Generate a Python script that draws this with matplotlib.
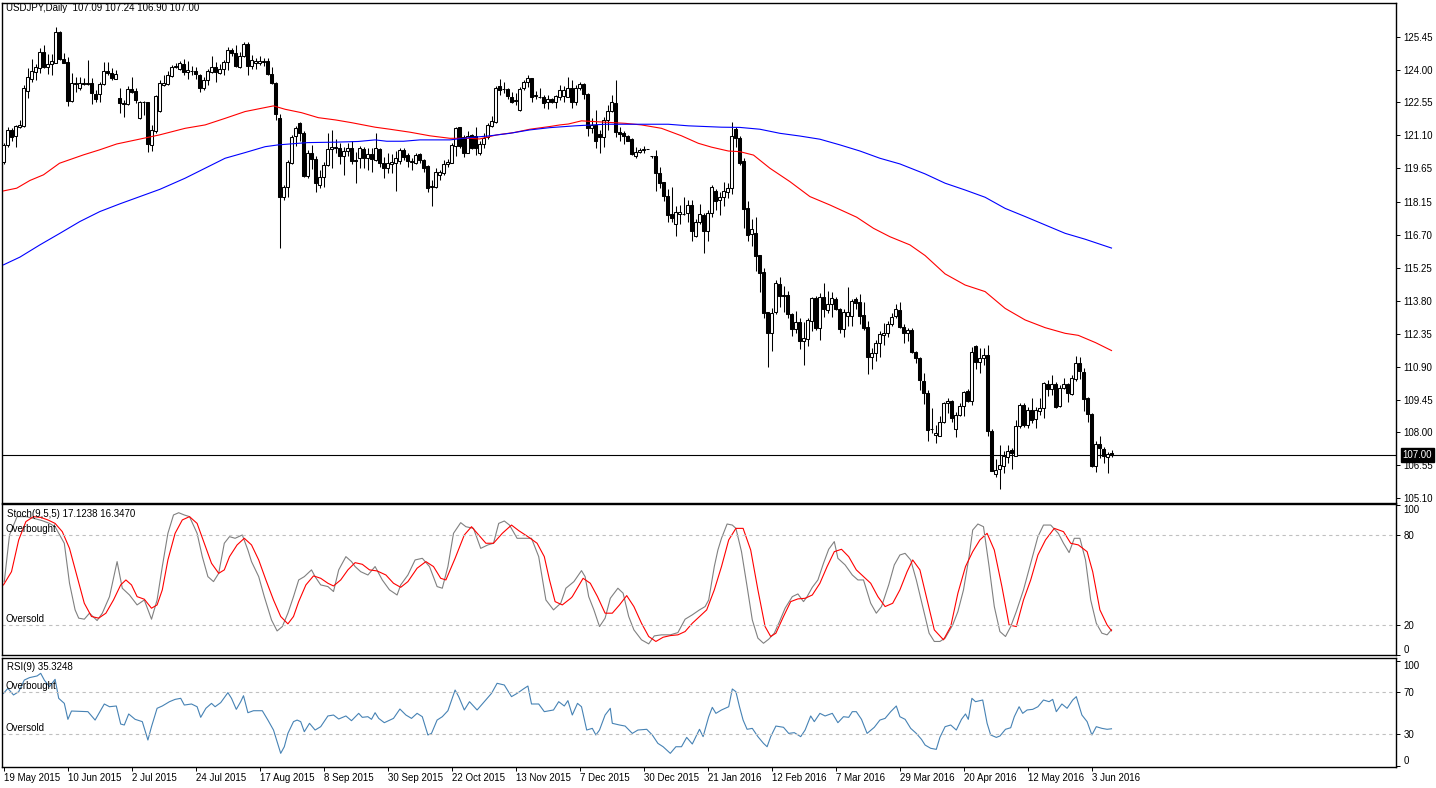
import matplotlib
matplotlib.use('Agg')
import matplotlib.pyplot as plt
import numpy as np

plt.rcParams['font.family'] = ['Liberation Sans', 'DejaVu Sans']
plt.rcParams['font.size'] = 7

# USDJPY daily candles, bar 0 = 19 May 2015 ... bar 277 = 10 Jun 2016
opens = [
    119.94, 120.68, 121.34, 121.05, 121.46, 121.52, 123.07, 123.57, 123.91, 124.06,
    124.76, 124.10, 124.24, 124.31, 125.65, 124.46, 124.32, 122.63, 123.37, 123.21,
    123.40, 123.38, 123.40, 122.93, 122.93, 123.37, 123.94, 123.84, 123.59, 122.74,
    122.52, 122.49, 123.13, 123.06, 121.88, 122.56, 122.56, 120.68, 121.27, 122.18,
    123.33, 123.37, 123.72, 124.10, 124.01, 124.24, 123.88, 123.94, 123.94, 123.77,
    123.21, 123.52, 123.91, 124.10, 123.87, 124.01, 124.35, 124.87, 124.72, 124.13,
    124.62, 125.13, 124.18, 124.28, 124.28, 124.35, 124.38, 123.79, 123.43, 121.88,
    118.36, 118.84, 119.90, 121.05, 121.63, 121.19, 119.31, 120.31, 120.05, 118.89,
    119.25, 119.80, 120.49, 120.53, 120.53, 120.21, 120.41, 120.56, 120.00, 120.09,
    120.49, 120.12, 120.27, 120.02, 120.49, 119.87, 119.68, 119.83, 119.90, 119.99,
    120.46, 120.24, 119.94, 119.90, 120.27, 120.02, 119.75, 118.84, 118.84, 119.33,
    119.46, 119.83, 119.90, 120.63, 121.46, 121.02, 120.34, 121.12, 121.05, 120.34,
    120.72, 121.02, 121.52, 121.71, 123.28, 123.13, 123.13, 122.81, 122.63, 122.22,
    123.18, 123.44, 123.62, 122.85, 122.81, 122.81, 122.55, 122.69, 122.56, 122.81,
    122.84, 122.81, 123.21, 122.55, 123.18, 123.35, 122.93, 121.41, 121.56, 121.15,
    121.02, 121.78, 122.19, 122.52, 121.24, 121.19, 121.05, 120.94, 120.21, 120.38,
    120.46, 120.50, 120.20, 120.19, 119.43, 119.03, 118.43, 117.62, 117.18, 117.62,
    117.62, 117.66, 118.03, 116.64, 117.30, 117.59, 116.90, 117.67, 118.65, 118.25,
    118.40, 118.62, 118.80, 121.37, 121.00, 119.97, 117.88, 116.74, 116.78, 115.83,
    115.06, 113.30, 112.37, 113.30, 114.55, 114.06, 114.06, 113.21, 112.55, 112.89,
    112.05, 112.11, 112.93, 113.91, 112.62, 113.99, 113.40, 113.66, 113.88, 113.45,
    112.56, 113.15, 113.15, 113.87, 113.77, 113.18, 112.64, 111.34, 111.49, 111.93,
    112.30, 112.37, 112.77, 113.14, 113.40, 112.67, 112.37, 112.52, 111.56, 111.30,
    110.27, 109.73, 108.15, 107.89, 107.85, 108.48, 109.29, 109.39, 108.14, 108.77,
    109.17, 109.83, 109.40, 111.81, 111.12, 111.27, 111.42, 108.07, 106.17, 106.37,
    106.52, 106.93, 107.23, 106.96, 108.29, 109.21, 108.33, 108.99, 108.58, 108.95,
    109.06, 110.14, 109.90, 110.14, 109.17, 109.95, 110.12, 109.68, 110.34, 111.05,
    110.68, 109.51, 108.81, 106.52, 107.49, 107.26, 106.90, 107.09]
highs = [
    120.75, 121.49, 121.41, 121.56, 121.78, 123.33, 124.06, 124.46, 124.24, 124.94,
    125.09, 124.68, 124.68, 125.87, 125.71, 124.72, 124.57, 123.84, 123.69, 123.69,
    123.62, 124.43, 123.62, 123.10, 123.47, 124.35, 124.35, 124.09, 123.99, 123.18,
    122.66, 123.28, 123.69, 123.18, 122.62, 122.62, 122.59, 121.56, 122.88, 123.55,
    123.77, 123.94, 124.21, 124.28, 124.40, 124.46, 124.38, 124.18, 124.10, 123.79,
    123.66, 124.03, 124.60, 124.35, 124.24, 124.43, 125.01, 124.97, 125.09, 124.79,
    125.21, 125.23, 124.65, 124.53, 124.60, 124.50, 124.50, 124.13, 123.47, 122.03,
    118.91, 120.02, 121.12, 121.52, 121.71, 121.27, 120.46, 120.68, 120.19, 119.58,
    119.94, 121.19, 121.34, 120.93, 120.78, 120.58, 120.75, 120.83, 120.38, 120.63,
    120.58, 120.53, 120.53, 121.22, 120.56, 120.16, 120.31, 120.27, 120.41, 120.53,
    120.56, 120.34, 120.09, 120.31, 120.31, 120.05, 119.80, 119.14, 119.65, 119.58,
    120.02, 120.05, 120.75, 121.49, 121.49, 121.12, 121.27, 121.16, 121.46, 120.83,
    121.19, 121.66, 121.97, 123.28, 123.57, 123.44, 123.18, 123.03, 122.96, 123.25,
    123.52, 123.77, 123.64, 123.07, 123.21, 122.88, 122.88, 122.74, 122.88, 123.33,
    123.28, 123.66, 123.55, 123.33, 123.47, 123.40, 122.96, 121.85, 122.22, 121.34,
    121.93, 122.44, 122.88, 123.55, 121.46, 121.27, 121.12, 120.97, 120.60, 120.53,
    120.63, 120.52, 120.21, 120.46, 119.72, 119.06, 118.74, 118.81, 117.99, 118.03,
    118.40, 118.25, 118.25, 117.40, 118.08, 117.67, 117.81, 118.89, 118.74, 118.62,
    119.03, 118.99, 121.71, 121.46, 121.07, 120.09, 118.21, 117.41, 117.49, 115.83,
    115.24, 113.33, 113.47, 114.72, 114.84, 114.46, 114.25, 113.25, 113.36, 113.03,
    112.89, 113.03, 113.99, 114.02, 114.14, 114.58, 114.25, 114.21, 113.96, 113.47,
    113.45, 114.40, 113.88, 113.99, 114.09, 113.77, 112.93, 111.71, 112.08, 112.45,
    112.84, 112.93, 113.25, 113.65, 113.77, 112.78, 112.59, 112.59, 111.61, 111.34,
    110.64, 109.87, 109.06, 108.33, 108.73, 109.36, 109.53, 109.43, 108.92, 109.31,
    109.84, 109.90, 111.78, 111.86, 111.71, 111.71, 111.86, 108.14, 106.82, 107.45,
    107.20, 107.45, 107.30, 108.55, 109.31, 109.28, 109.14, 109.51, 109.14, 109.51,
    110.24, 110.31, 110.53, 110.24, 110.09, 110.39, 110.20, 110.53, 111.37, 111.31,
    110.83, 109.58, 108.87, 107.64, 107.85, 107.35, 107.15, 107.24]
lows = [
    119.84, 120.58, 120.83, 120.60, 121.41, 121.49, 122.74, 123.47, 123.55, 123.84,
    124.06, 123.79, 123.76, 124.28, 124.43, 124.28, 122.41, 122.59, 122.99, 123.10,
    123.33, 123.33, 122.47, 122.56, 122.59, 123.31, 123.76, 123.55, 123.57, 122.07,
    121.93, 122.44, 122.96, 122.52, 121.81, 122.00, 120.38, 120.41, 121.22, 122.15,
    123.28, 123.33, 123.69, 124.06, 123.99, 123.76, 123.57, 123.76, 123.57, 123.00,
    123.10, 123.33, 123.87, 123.47, 123.81, 123.76, 123.99, 124.60, 124.13, 124.09,
    124.57, 123.76, 124.01, 124.01, 124.21, 124.16, 123.76, 123.35, 121.78, 116.15,
    118.25, 118.40, 119.84, 120.63, 120.83, 119.25, 119.21, 119.61, 118.59, 118.77,
    118.81, 119.77, 119.65, 120.31, 119.83, 119.36, 120.21, 119.83, 119.02, 119.65,
    119.65, 119.58, 119.50, 119.99, 119.69, 119.21, 119.46, 119.46, 118.66, 119.83,
    120.02, 119.72, 119.58, 119.83, 119.87, 119.50, 118.58, 118.00, 118.80, 119.11,
    119.36, 119.72, 119.87, 120.19, 120.53, 120.13, 120.31, 120.49, 120.24, 120.24,
    120.53, 120.94, 121.49, 121.63, 122.88, 122.96, 122.69, 122.52, 122.44, 122.19,
    123.10, 123.25, 122.59, 122.69, 122.74, 122.30, 122.25, 122.52, 122.30, 122.66,
    122.59, 122.78, 122.30, 122.44, 123.10, 122.69, 121.05, 121.22, 120.56, 120.31,
    120.58, 121.34, 122.15, 121.02, 120.83, 120.71, 120.83, 120.24, 120.12, 120.31,
    120.31, 120.48, 120.12, 118.66, 118.77, 118.22, 117.30, 117.30, 116.64, 117.18,
    117.59, 117.27, 116.46, 116.61, 117.19, 115.93, 116.42, 117.49, 117.81, 117.59,
    118.00, 118.33, 118.50, 120.60, 119.80, 117.00, 116.46, 116.24, 115.13, 114.17,
    113.06, 110.90, 111.61, 113.22, 113.55, 113.33, 113.03, 112.23, 112.37, 111.67,
    110.98, 111.81, 112.49, 112.52, 112.07, 113.11, 113.25, 113.11, 113.40, 112.37,
    112.19, 112.71, 112.70, 113.43, 112.78, 112.52, 110.58, 110.78, 111.17, 111.31,
    111.86, 112.19, 112.69, 113.03, 112.62, 111.96, 112.05, 111.52, 111.05, 109.87,
    109.26, 107.60, 107.99, 107.55, 107.82, 108.43, 108.85, 108.48, 107.79, 108.73,
    108.73, 109.36, 109.21, 110.78, 110.61, 110.98, 107.82, 106.28, 106.05, 105.49,
    106.23, 106.64, 106.37, 106.94, 108.18, 108.26, 108.18, 108.43, 108.18, 108.77,
    108.62, 109.61, 109.65, 109.06, 109.11, 109.90, 109.36, 109.65, 110.28, 110.34,
    108.96, 108.48, 106.49, 106.27, 106.86, 106.67, 106.20, 106.90]
closes = [
    120.68, 121.34, 121.02, 121.52, 121.56, 123.18, 123.66, 123.94, 124.13, 124.76,
    124.10, 124.25, 124.38, 125.65, 124.46, 124.31, 122.63, 123.40, 123.40, 123.40,
    123.38, 123.40, 122.96, 122.71, 123.37, 123.94, 123.84, 123.62, 123.81, 122.52,
    122.50, 123.13, 123.03, 122.66, 122.59, 122.56, 120.71, 121.34, 122.84, 123.43,
    123.43, 123.77, 124.13, 124.18, 124.31, 123.91, 123.99, 123.92, 123.79, 123.21,
    123.55, 123.94, 124.13, 123.91, 124.01, 124.35, 124.87, 124.72, 124.18, 124.60,
    125.13, 124.18, 124.43, 124.40, 124.38, 124.36, 123.79, 123.40, 122.05, 118.36,
    118.84, 119.94, 121.02, 121.41, 121.19, 119.31, 120.31, 120.05, 118.99, 119.25,
    119.80, 120.49, 120.60, 120.60, 120.21, 120.41, 120.56, 119.97, 119.99, 120.53,
    120.12, 120.27, 120.05, 120.53, 119.90, 119.68, 119.87, 119.91, 120.09, 120.46,
    120.16, 119.99, 119.95, 120.24, 120.02, 119.68, 118.80, 118.85, 119.47, 119.47,
    119.83, 119.91, 120.68, 121.41, 120.63, 120.34, 121.05, 120.56, 120.56, 120.71,
    120.97, 121.56, 121.74, 123.18, 123.10, 123.13, 122.84, 122.56, 122.64, 123.13,
    123.44, 123.62, 122.81, 122.86, 122.80, 122.52, 122.71, 122.56, 122.84, 123.10,
    123.10, 123.21, 122.59, 123.18, 123.35, 122.93, 121.41, 121.56, 120.83, 121.02,
    121.78, 122.19, 122.56, 121.24, 121.15, 121.05, 120.87, 120.28, 120.35, 120.46,
    120.52, 120.50, 120.17, 119.43, 119.02, 118.44, 117.59, 117.47, 117.71, 117.71,
    117.62, 118.03, 116.90, 117.27, 117.62, 116.90, 117.67, 118.84, 118.22, 118.40,
    118.65, 118.80, 121.07, 120.97, 119.87, 117.84, 116.71, 116.96, 115.80, 115.05,
    113.28, 112.37, 113.25, 114.58, 114.03, 114.02, 113.21, 112.56, 112.89, 112.05,
    112.18, 112.96, 113.91, 112.59, 113.99, 113.43, 113.66, 113.91, 113.43, 112.56,
    113.30, 113.30, 113.80, 113.72, 113.15, 112.62, 111.34, 111.49, 111.93, 112.34,
    112.37, 112.77, 113.08, 113.43, 112.67, 112.37, 112.52, 111.56, 111.27, 110.29,
    109.73, 108.11, 108.14, 107.96, 108.48, 109.31, 109.39, 108.65, 108.77, 109.17,
    109.77, 109.40, 111.56, 111.12, 111.27, 111.42, 108.04, 106.32, 106.35, 106.57,
    106.96, 107.18, 107.08, 108.29, 109.21, 108.33, 108.99, 108.55, 108.99, 109.09,
    110.17, 109.90, 110.14, 109.14, 109.95, 110.12, 109.73, 110.39, 111.05, 110.73,
    109.46, 108.81, 106.52, 107.49, 107.30, 106.96, 107.05, 107.00]

# moving averages (bar, price)
ma_red = [(0, 118.65), (3.3, 118.77), (6.6, 119.11), (10, 119.36), (14, 119.87),
          (20, 120.24), (24, 120.46), (28.3, 120.72), (35, 120.97), (39, 121.12),
          (45.4, 121.41), (50.4, 121.56), (55.4, 121.85), (60.4, 122.15), (67.5, 122.40),
          (70.4, 122.25), (74.5, 122.10), (78.7, 121.88), (83, 121.78), (87, 121.66),
          (92.9, 121.46), (96.6, 121.37), (101.6, 121.24), (106.6, 121.08), (111.6, 120.97),
          (116.6, 120.97), (119, 120.94), (123.3, 121.12), (127.5, 121.22), (131.6, 121.37),
          (136.6, 121.49), (139.1, 121.56), (141.2, 121.60), (144.5, 121.74), (150.4, 121.68),
          (155.4, 121.63), (159.5, 121.56), (164.5, 121.41), (169.5, 121.08), (173.7, 120.75),
          (177, 120.58), (181.2, 120.41), (184.1, 120.38), (187.5, 120.23), (191.6, 119.65),
          (196.6, 119.06), (201.6, 118.40), (206.6, 118.03), (213.3, 117.49), (217.5, 117.00),
          (221.6, 116.63), (226.6, 116.27), (230.4, 115.80), (235.4, 114.99), (240.4, 114.50),
          (245.4, 114.21), (250.4, 113.47), (255.4, 112.96), (260.4, 112.62), (265.4, 112.37),
          (268.7, 112.28), (273, 111.96), (277, 111.61)]
ma_blue = [(0, 115.39), (4.1, 115.73), (9.1, 116.27), (14.1, 116.78), (19.1, 117.30),
           (24.1, 117.74), (29.1, 118.08), (34.1, 118.40), (39.1, 118.72), (45.4, 119.21),
           (50.4, 119.65), (55.4, 120.09), (60.4, 120.34), (65.4, 120.60), (68.7, 120.68),
           (76, 120.78), (83, 120.80), (88.7, 120.83), (92.9, 120.90), (95.8, 120.84),
           (100, 120.84), (104.1, 120.90), (111.6, 120.90), (116.6, 121.00), (121.6, 121.08),
           (126.6, 121.19), (131.6, 121.34), (136.6, 121.44), (142.9, 121.52), (150.4, 121.59),
           (166.2, 121.59), (171.2, 121.52), (179.5, 121.46), (184.1, 121.45), (189.1, 121.37),
           (194.1, 121.19), (199.1, 121.07), (204.1, 120.93), (209.1, 120.68), (214.1, 120.41),
           (219.1, 120.09), (224.1, 119.84), (230.4, 119.40), (235.4, 118.99), (240.4, 118.69),
           (245.4, 118.37), (250.4, 117.88), (255.4, 117.52), (260.4, 117.15), (265.4, 116.78),
           (270.4, 116.52), (277, 116.13)]

# Stochastic (9,5,5)
stoch_main_x = [
    0.2, 1.5, 3.4, 5.6, 7.5, 9.7, 11.5, 12.9, 15.2, 16.5, 17.9, 18.8, 20.2, 21.5, 23.4,
    24.7, 26.5, 28.4, 29.7, 31.5, 33.4, 35.2, 37.0, 38.4, 39.7, 41.1, 42.5, 43.8, 45.2,
    46.5, 48.4, 49.7, 51.1, 52.5, 53.8, 55.2, 56.5, 57.9, 59.7, 61.1, 62.0, 63.8, 65.2,
    67.0, 68.4, 69.7, 71.1, 72.5, 73.8, 75.2, 77.0, 77.9, 79.3, 81.1, 82.5, 83.8, 85.6,
    87.0, 87.9, 89.3, 91.1, 92.9, 94.7, 96.5, 98.4, 99.3, 101.1, 102.9, 104.7, 106.5,
    108.4, 109.7, 111.1, 112.5, 114.3, 115.6, 117.5, 119.3, 121.1, 122.5, 123.8, 125.2,
    126.5, 128.4, 130.2, 132.0, 133.8, 135.6, 137.5, 139.3, 140.6, 142.6, 144.5, 145.4,
    146.3, 147.6, 149.0, 150.4, 151.7, 153.6, 154.9, 156.3, 157.6, 159.5, 161.3, 162.7,
    164.5, 166.7, 168.6, 170.4, 172.2, 174.0, 175.4, 176.3, 177.7, 178.6, 179.5, 180.9,
    182.2, 183.1, 184.5, 185.9, 187.2, 188.6, 190.0, 191.3, 192.7, 194.0, 195.4, 197.2,
    198.6, 200.0, 200.9, 202.2, 203.6, 205.0, 206.3, 207.7, 208.6, 210.4, 212.2, 213.6,
    215.0, 216.8, 218.2, 219.5, 221.3, 222.7, 224.1, 225.4, 226.8, 228.2, 230.0, 231.4,
    232.7, 234.1, 235.4, 237.3, 238.6, 240.0, 241.4, 242.3, 243.6, 245.0, 246.4, 247.7,
    249.1, 250.5, 251.8, 253.2, 255.0, 256.8, 258.6, 260.0, 261.8, 263.7, 265.0, 266.4,
    267.7, 269.1, 270.5, 271.8, 273.2, 274.6, 275.9, 277.0]
stoch_main = [
    49.0, 80.0, 92.2, 92.2, 91.1, 89.5, 87.7, 85.5, 74.5, 47.9, 30.2, 24.7, 24.0, 28.0, 23.1,
    28.0, 39.0, 62.3, 44.6, 40.1, 33.5, 36.8, 24.0, 36.8, 59.0, 81.1, 93.3, 94.8, 93.3,
    92.2, 81.1, 65.6, 52.3, 49.0, 54.5, 74.5, 78.9, 77.8, 80.0, 70.0, 62.3, 52.3, 39.0,
    23.5, 16.2, 19.1, 28.0, 39.0, 50.1, 52.3, 56.8, 52.3, 46.8, 45.7, 42.4, 56.8, 65.6,
    62.3, 59.0, 55.6, 53.4, 59.0, 50.1, 43.5, 40.1, 46.8, 53.4, 63.4, 64.5, 59.0,
    45.7, 44.6, 59.0, 81.1, 88.2, 85.5, 84.4, 71.1, 73.4, 74.5, 87.7, 89.3,
    86.6, 77.8, 77.8, 77.8, 65.6, 36.8, 30.2, 34.6, 44.6, 49.0, 56.3, 52.3,
    39.0, 30.2, 19.1, 24.7, 37.9, 44.6, 41.3, 25.8, 16.9, 10.3, 7.6, 12.9,
    13.6, 13.6, 15.1, 24.0, 26.9, 30.2, 32.4, 36.8, 59.0, 70.0, 77.8, 87.3,
    86.6, 84.4, 68.9, 45.7, 23.5, 11.4, 8.0, 10.7, 14.7, 22.4, 31.3, 39.0,
    40.8, 35.7, 39.0, 45.2, 50.1, 61.2, 70.5, 75.6, 64.5, 60.1, 53.4, 50.1,
    50.1, 34.6, 28.0, 32.4, 46.8, 60.1, 66.7, 67.8, 63.4, 50.1, 30.2, 14.7,
    9.2, 9.2, 11.4, 20.2, 29.1, 43.5, 65.6, 83.3, 87.3, 85.5, 59.0, 32.4,
    15.8, 12.5, 19.1, 29.1, 43.5, 61.2, 78.9, 86.6, 86.6, 81.1, 74.5, 68.3,
    77.8, 77.8, 63.4, 36.8, 21.3, 14.7, 13.6, 17.1]
stoch_sig_x = [
    0, 2.0, 3.8, 5.6, 7.5, 9.3, 11.1, 12.9, 14.7, 16.5, 18.4, 20.2, 22.0, 23.8, 25.6,
    27.5, 29.3, 30.6, 32.0, 33.4, 35.2, 37.0, 38.4, 39.7, 41.1, 42.9, 44.7, 46.5, 48.4,
    50.2, 52.0, 53.8, 55.2, 56.5, 58.4, 60.2, 62.0, 63.8, 65.6, 67.5, 69.3, 71.1, 72.5,
    73.8, 75.6, 77.5, 79.3, 81.1, 82.5, 84.3, 86.1, 87.9, 89.7, 91.5, 93.4, 95.6, 97.5,
    99.3, 101.1, 103.4, 105.6, 107.5, 109.3, 110.6, 112.9, 115.2, 117.0, 118.8, 120.6,
    122.5, 124.7, 127.0, 128.8, 131.1, 133.4, 135.2, 136.5, 137.9, 139.7, 141.8,
    142.2, 144.9, 146.7, 148.5, 150.4, 152.2, 154.0, 155.8, 157.6, 159.5, 161.3, 163.1,
    164.9, 166.7, 168.6, 170.4, 172.2, 174.0, 175.8, 177.7, 179.5, 181.3, 183.1, 184.9,
    186.8, 188.6, 190.4, 191.8, 193.1, 195.0, 196.8, 198.6, 200.4, 202.2, 204.1, 205.9,
    207.7, 209.5, 211.3, 213.2, 215.0, 216.8, 218.6, 220.4, 222.3, 224.1, 225.9, 227.3,
    229.1, 230.9, 232.7, 235.0, 236.8, 238.6, 240.5, 242.3, 244.1, 245.9, 247.7, 249.6,
    251.4, 253.2, 255.0, 256.8, 258.6, 260.5, 262.7, 265.0, 266.8, 268.7, 270.9, 272.3,
    274.1, 275.9, 277.0]
stoch_sig = [
    46.8, 55.6, 76.7, 88.9, 92.2, 91.7, 90.0, 87.7, 82.2, 71.1, 52.3, 34.6, 25.8, 24.7, 28.0,
    36.8, 46.8, 50.1, 46.8, 39.0, 37.3, 31.3, 33.5, 43.5, 63.4, 81.1, 90.0, 92.2, 87.7,
    74.5, 61.2, 54.5, 56.8, 65.6, 73.4, 77.8, 73.4, 63.4, 50.1, 36.8, 25.8, 20.9, 25.8,
    35.7, 46.8, 52.8, 51.2, 47.9, 46.1, 50.1, 56.8, 61.6, 60.5, 56.8, 56.1, 53.4, 47.9,
    45.2, 49.0, 57.9, 62.3, 59.0, 51.2, 50.1, 64.5, 80.0, 85.5, 80.0, 74.5,
    74.5, 81.1, 86.6, 82.9, 78.9, 74.5, 65.6, 50.1, 35.7, 33.5, 37.9,
    39.0, 51.2, 47.9, 39.0, 28.0, 28.0, 33.5, 39.7, 32.4, 21.3, 12.5, 9.2,
    12.0, 13.1, 13.6, 15.8, 21.3, 25.8, 30.2, 43.5, 59.0, 76.7, 84.4, 84.4,
    70.0, 43.5, 19.1, 12.5, 14.7, 25.8, 35.7, 37.5, 37.9, 40.1, 47.9, 59.0,
    68.9, 70.5, 65.6, 56.8, 52.3, 47.9, 39.0, 32.4, 34.6, 43.5, 55.6, 63.4,
    56.8, 36.8, 16.9, 10.3, 19.1, 41.3, 59.0, 68.9, 76.7, 81.1, 70.0, 45.7,
    20.2, 19.1, 36.8, 50.1, 66.7, 76.7, 84.4, 82.2, 74.5, 73.4, 68.9, 55.6,
    30.2, 20.2, 16.3]

# RSI(9) (bar, value)
rsi_pts = [
    (0, 69.0), (1.1, 73.8), (2.5, 67.5), (3.8, 70.6), (5.2, 81.7), (6.5, 84.0), (8.4, 85.6),
    (9.3, 88.1), (10.2, 81.7), (11.5, 75.4), (12.9, 82.4), (13.8, 64.3), (15.2, 59.5),
    (16.1, 44.3), (17.0, 52.2), (21.1, 51.6), (22.9, 43.6), (25.2, 58.9), (26.5, 56.3),
    (28.2, 57.0), (29.3, 39.8), (30.2, 38.9), (31.3, 49.4), (32.9, 44.3), (34.7, 42.1),
    (36.1, 24.6), (37.0, 37.3), (38.4, 54.8), (39.7, 57.0), (41.5, 61.1), (42.9, 63.3),
    (44.3, 64.3), (45.2, 57.9), (47.0, 58.9), (48.4, 56.3), (49.3, 46.2), (50.6, 54.8),
    (52.0, 59.5), (52.9, 56.3), (54.3, 60.2), (56.1, 69.7), (57.0, 64.3), (58.2, 53.8),
    (59.3, 61.1), (60.0, 66.8), (61.1, 50.6), (62.5, 52.5), (64.7, 52.5), (66.1, 43.6),
    (67.5, 34.1), (68.4, 23.0), (69.3, 11.9), (70.2, 18.2), (71.1, 30.9), (72.5, 42.1),
    (73.4, 43.6), (74.3, 42.1), (75.2, 32.5), (76.5, 40.5), (77.9, 34.1), (79.3, 37.3),
    (81.1, 47.5), (82.5, 48.4), (83.8, 44.6), (85.6, 47.5), (87.0, 43.0), (88.8, 50.0),
    (89.7, 46.2), (91.1, 46.8), (92.0, 44.3), (92.9, 50.6), (93.8, 45.2), (95.2, 41.1),
    (97.5, 45.2), (99.1, 54.1), (100.6, 48.4), (102.0, 45.2), (103.4, 50.0), (104.7, 46.8),
    (106.1, 29.4), (107.0, 30.9), (108.4, 43.6), (109.7, 46.8), (111.1, 52.5), (112.9, 72.2),
    (113.8, 65.9), (115.2, 53.2), (116.5, 61.1), (118.4, 53.2), (120.2, 61.1), (122.0, 69.0),
    (123.4, 78.6), (125.2, 77.0), (127.0, 65.9), (128.4, 69.0), (130.2, 73.8), (131.1, 76.0),
    (132.0, 58.9), (133.8, 58.9), (135.2, 51.6), (137.5, 53.2), (138.8, 61.1), (140.2, 57.0),
    (141.1, 62.1), (142.2, 48.4), (143.5, 59.5), (144.5, 56.3), (145.8, 34.1), (147.2, 35.7),
    (148.1, 29.4), (149.0, 34.1), (150.4, 48.4), (151.7, 54.8), (152.2, 40.5), (154.0, 38.9),
    (155.4, 37.9), (157.2, 30.9), (158.6, 34.1), (160.8, 34.8), (162.2, 29.4), (163.6, 21.4),
    (164.9, 18.2), (166.7, 11.9), (168.1, 18.2), (169.5, 18.2), (170.8, 27.1), (172.2, 20.8),
    (174.0, 34.8), (174.9, 27.8), (176.3, 46.8), (177.2, 55.7), (178.1, 50.0), (179.5, 53.2),
    (181.3, 56.3), (182.2, 73.2), (183.1, 70.6), (184.0, 56.3), (184.9, 43.6), (185.9, 34.8),
    (187.2, 35.7), (188.6, 27.8), (190.0, 21.4), (190.9, 18.2), (191.8, 27.8), (193.1, 37.9),
    (195.0, 36.7), (196.3, 30.9), (197.7, 31.6), (199.3, 27.8), (200.4, 34.1), (201.8, 47.5),
    (202.7, 42.1), (204.1, 50.0), (205.4, 47.5), (207.2, 50.0), (208.6, 41.1), (210.0, 46.8),
    (211.3, 46.2), (212.2, 51.6), (213.2, 51.6), (214.5, 44.3), (215.9, 30.9), (217.7, 36.7),
    (219.1, 43.6), (220.4, 45.2), (221.8, 51.6), (223.2, 57.0), (224.1, 46.8), (225.4, 44.3),
    (226.8, 35.7), (228.2, 30.9), (229.5, 25.2), (230.4, 19.8), (231.8, 16.7), (233.2, 15.7),
    (234.1, 27.1), (235.4, 37.3), (236.8, 38.9), (238.2, 34.1), (239.5, 44.3), (240.5, 49.4),
    (241.2, 44.3), (242.1, 64.3), (243.0, 61.1), (244.8, 62.7), (245.9, 40.5), (246.8, 29.4),
    (248.2, 27.1), (249.1, 28.4), (250.5, 34.8), (251.8, 36.3), (252.7, 46.8), (253.9, 56.3),
    (254.8, 50.0), (255.9, 53.2), (257.3, 53.8), (258.6, 56.3), (260.0, 62.7), (261.4, 61.1),
    (262.3, 63.3), (263.2, 51.6), (264.6, 58.9), (265.9, 54.8), (267.3, 62.7), (268.2, 65.9),
    (269.6, 48.4), (270.9, 42.1), (272.1, 29.4), (273.2, 37.3), (274.6, 35.7), (275.9, 34.8),
    (277.0, 35.3)]

date_labels = ['19 May 2015', '10 Jun 2015', '2 Jul 2015', '24 Jul 2015', '17 Aug 2015',
               '8 Sep 2015', '30 Sep 2015', '22 Oct 2015', '13 Nov 2015', '7 Dec 2015',
               '30 Dec 2015', '21 Jan 2016', '12 Feb 2016', '7 Mar 2016', '29 Mar 2016',
               '20 Apr 2016', '12 May 2016', '3 Jun 2016']
price_ticks = [125.45, 124.00, 122.55, 121.10, 119.65, 118.15, 116.70, 115.25,
               113.80, 112.35, 110.90, 109.45, 108.00, 106.55, 105.10]
last_price = 107.00

W, H = 1436, 788


def px_axes(fig, x0, y0, x1, y1):
    # axes placed by pixel box (top-left origin)
    return fig.add_axes([x0 / W, 1 - y1 / H, (x1 - x0) / W, (y1 - y0) / H])


def style_panel(ax):
    for s in ax.spines.values():
        s.set_linewidth(1.0)
        s.set_color('black')
    ax.yaxis.tick_right()
    ax.tick_params(axis='y', direction='out', length=3, width=0.7, pad=2,
                   labelsize=7, colors='black')
    ax.set_xlim(-0.3, 348.2)


fig = plt.figure(figsize=(W / 100, H / 100), dpi=100)
fig.patch.set_facecolor('white')

ax = px_axes(fig, 2.3, 2.7, 1396.3, 502.7)
ax_st = px_axes(fig, 2.3, 504.3, 1396.3, 655.3)
ax_rsi = px_axes(fig, 2.3, 658, 1396.3, 767)

# ---- price panel
o = np.array(opens)
h = np.array(highs)
l = np.array(lows)
c = np.array(closes)
idx = np.arange(len(c))
up = c >= o
ax.vlines(idx, l, h, color='black', lw=0.75, zorder=2)
ax.bar(idx, np.abs(c - o), bottom=np.minimum(o, c), width=0.62,
       color=np.where(up, 'white', 'black'), edgecolor='black',
       linewidth=0.75, zorder=3)

rx, ry = zip(*ma_red)
bx, by = zip(*ma_blue)
ax.plot(rx, ry, color='#ff0000', lw=0.8, zorder=4)
ax.plot(bx, by, color='#0000ff', lw=0.8, zorder=4)
ax.axhline(last_price, color='black', lw=0.8, zorder=1)

style_panel(ax)
ax.set_ylim(104.90, 126.95)
ax.set_yticks(price_ticks)
ax.set_yticklabels(['%.2f' % p for p in price_ticks])
ax.set_xticks([])
ax.annotate('%.2f' % last_price, xy=(1, last_price),
            xycoords=('axes fraction', 'data'), xytext=(4.5, 0),
            textcoords='offset points', va='center', ha='left', fontsize=7,
            color='white', bbox=dict(facecolor='black', edgecolor='black', pad=1.2),
            annotation_clip=False, zorder=10)
fig.text(6 / W, 1 - 8 / H, 'USDJPY,Daily  107.09 107.24 106.90 107.00',
         ha='left', va='center', fontsize=7)

# ---- stochastic panel
ax_st.plot(stoch_main_x, stoch_main, color='#808080', lw=0.8)
ax_st.plot(stoch_sig_x, stoch_sig, color='#ff0000', lw=0.8)
for lev in (80, 20):
    ax_st.axhline(lev, color='#c0c0c0', lw=0.8, ls=(0, (3, 3)))
style_panel(ax_st)
ax_st.set_ylim(0, 100.4)
ax_st.set_yticks([0, 20, 80, 100])
ax_st.set_yticklabels(['0', '20', '80', '100'])
ax_st.set_xticks([])
ax_st.get_yticklabels()[3].set_va('top')
ax_st.get_yticklabels()[0].set_va('bottom')
ax_st.text(0.0036, 0.937, 'Stoch(9,5,5) 17.1238 16.3470', transform=ax_st.transAxes,
           ha='left', va='center', fontsize=7)
ax_st.annotate('Overbought', xy=(0, 80), xycoords=('axes fraction', 'data'),
               xytext=(2, 1), textcoords='offset points', va='bottom', fontsize=7)
ax_st.annotate('Oversold', xy=(0, 20), xycoords=('axes fraction', 'data'),
               xytext=(2, 1), textcoords='offset points', va='bottom', fontsize=7)

# ---- RSI panel
sx, sy = zip(*rsi_pts)
ax_rsi.plot(sx, sy, color='#4682b4', lw=0.8)
for lev in (70, 30):
    ax_rsi.axhline(lev, color='#c0c0c0', lw=0.8, ls=(0, (3, 3)))
style_panel(ax_rsi)
ax_rsi.set_ylim(-1.1, 102.7)
ax_rsi.set_yticks([0, 30, 70, 100])
ax_rsi.set_yticklabels(['0', '30', '70', '100'])
ax_rsi.get_yticklabels()[3].set_va('top')
ax_rsi.get_yticklabels()[0].set_va('bottom')
ax_rsi.text(0.0036, 0.913, 'RSI(9) 35.3248', transform=ax_rsi.transAxes,
            ha='left', va='center', fontsize=7)
ax_rsi.annotate('Overbought', xy=(0, 70), xycoords=('axes fraction', 'data'),
                xytext=(2, 1), textcoords='offset points', va='bottom', fontsize=7)
ax_rsi.annotate('Oversold', xy=(0, 30), xycoords=('axes fraction', 'data'),
                xytext=(2, 1), textcoords='offset points', va='bottom', fontsize=7)

ax_rsi.set_xticks(np.arange(len(date_labels)) * 16)
ax_rsi.set_xticklabels(date_labels, ha='left')
ax_rsi.tick_params(axis='x', direction='out', length=3, width=0.7, pad=1.5,
                   labelsize=7)

fig.savefig('out.png', dpi=100)
